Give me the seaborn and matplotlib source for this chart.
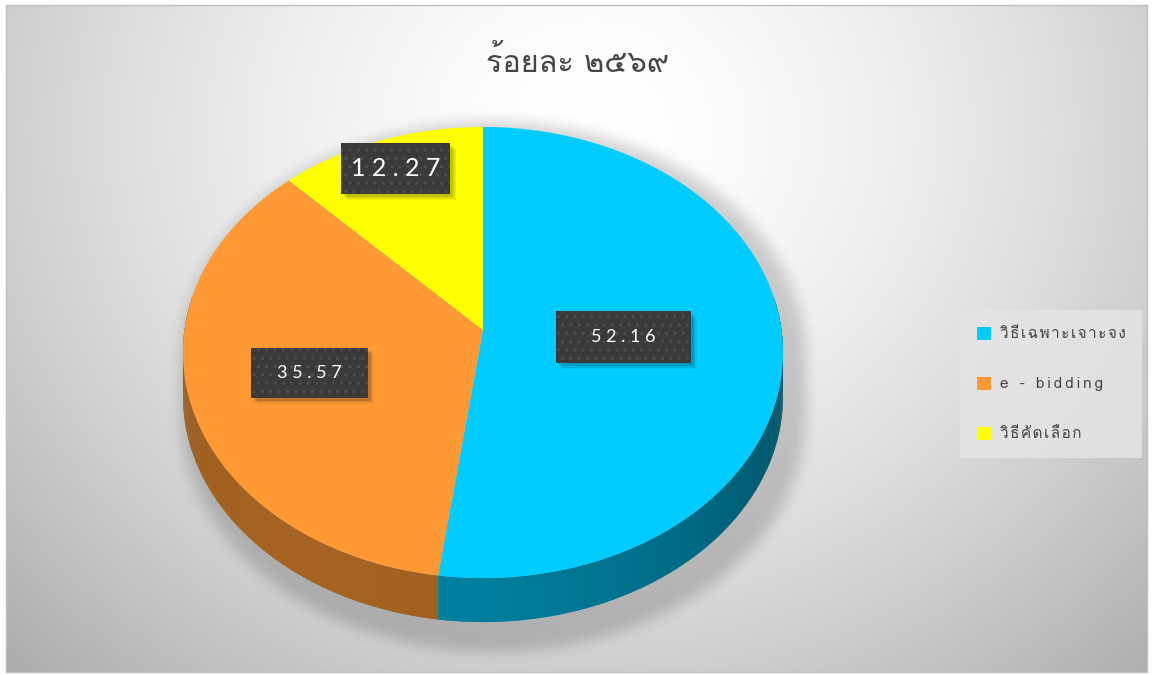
import numpy as np
import unicodedata
import matplotlib
matplotlib.use("Agg")
import matplotlib.pyplot as plt
import matplotlib.font_manager as fm
from matplotlib.patches import Patch, Rectangle, Polygon
from matplotlib.path import Path
import seaborn as sns

# ---------------- data ----------------
title_text = "ร้อยละ ๒๕๖๙"
categories = ["วิธีเฉพาะเจาะจง", "e - bidding", "วิธีคัดเลือก"]
values = [52.16, 35.57, 12.27]
label_texts = ["52.16", "35.57", "12.27"]
colors = ["#00CCFF", "#FF9933", "#FFFF00"]

sns.set_theme(style="white")

# find a font with Thai coverage
thai_family = None
try:
    from fontTools.ttLib import TTFont
    for f in fm.fontManager.ttflist:
        try:
            t = TTFont(f.fname, fontNumber=0, lazy=True)
            cmap = t.getBestCmap()
            if cmap and 0x0E01 in cmap:
                thai_family = f.name
                break
        except Exception:
            continue
except Exception:
    pass
fams = ([thai_family] if thai_family else []) + ["DejaVu Sans"]
plt.rcParams["font.family"] = fams


def spaced(s):
    out = ""
    for ch in s:
        if out and unicodedata.category(ch) not in ("Mn", "Mc"):
            out += "\u2009" if ch.isascii() else "\u200a"
        out += ch
    return out


W, H = 1152, 675
fig = plt.figure(figsize=(W / 100, H / 100), dpi=100)
fig.patch.set_facecolor("white")
ax = fig.add_axes([0, 0, 1, 1])
ax.set_xlim(0, W)
ax.set_ylim(H, 0)
ax.axis("off")

# ---------- background gradient ----------
x0, y0, x1, y1 = 6, 5, 1147, 672
yy, xx = np.mgrid[y0:y1, x0:x1]
d = np.sqrt(((xx - 590) / 700.0) ** 2 + ((yy - 130) / 640.0) ** 2)
g = 1.0 - 0.25 * np.clip(d, 0, 1.2) ** 1.6
bg = np.dstack([g, g, g])
ax.imshow(bg, extent=(x0, x1, y1, y0), zorder=0, interpolation="bilinear")
ax.add_patch(Rectangle((x0, y0), x1 - x0, y1 - y0, fill=False, ec="#c0c0c0", lw=1, zorder=1))

# ---------- projection ----------
cx, cy, A, C, p, depth = 483.0, 330.0, 298.5, 223.3, 0.0998, 44.0


def proj(theta_deg, r=1.0, z=0.0):
    th = np.radians(theta_deg)
    u = r * np.sin(th)
    v = -r * np.cos(th)
    w = 1 - p * v
    return cx + A * u / w, cy + C * v / w + z


# ---------- shadow ----------
sy, sx = np.mgrid[0:H, 0:W]
pts = np.column_stack([sx.ravel(), sy.ravel()])
mask = np.zeros((H, W))
ts = np.linspace(0, 360, 300)
for z in np.linspace(0, depth + 16, 8):
    px, py = proj(ts, 1.04, z)
    path = Path(np.column_stack([px + 10, py + 2]))
    inside = path.contains_points(pts).reshape(H, W)
    mask = np.maximum(mask, inside)


def blur(a, k):
    ker = np.ones(k) / k
    for _ in range(3):
        a = np.apply_along_axis(lambda m: np.convolve(m, ker, mode="same"), 1, a)
        a = np.apply_along_axis(lambda m: np.convolve(m, ker, mode="same"), 0, a)
    return a


sh = blur(mask, 13)
shadow = np.zeros((H, W, 4))
shadow[..., 3] = 0.17 * sh
ax.imshow(shadow, extent=(0, W, H, 0), zorder=2, interpolation="bilinear")

# ---------- pie ----------
total = float(sum(values))
angles = np.cumsum([0] + [v / total * 360 for v in values])


def hex2rgb(h):
    return np.array(matplotlib.colors.to_rgb(h))


for i, c in enumerate(colors):
    a0, a1 = angles[i], angles[i + 1]
    n = max(int(a1 - a0) * 2, 4)
    ths = np.linspace(a0, a1, n)
    base = hex2rgb(c)
    for j in range(n - 1):
        tm = (ths[j] + ths[j + 1]) / 2
        if np.cos(np.radians(tm)) > 0.15:
            continue
        f = 0.47 + 0.18 * np.cos(np.radians(tm - 215))
        xa, ya = proj(np.array([ths[j], ths[j + 1] + 0.3]))
        xb, yb = proj(np.array([ths[j + 1] + 0.3, ths[j]]), z=depth)
        ax.add_patch(Polygon(np.column_stack([np.r_[xa, xb], np.r_[ya, yb]]),
                             closed=True, fc=np.clip(base * f, 0, 1), ec="none", zorder=3))

for i, c in enumerate(colors):
    a0, a1 = angles[i], angles[i + 1]
    ths = np.linspace(a0, a1, 200)
    px, py = proj(ths)
    ax.add_patch(Polygon(np.column_stack([np.r_[cx, px], np.r_[cy, py]]),
                         closed=True, fc=c, ec="none", zorder=4))

# ---------- data labels ----------
label_r = [0.47, 0.6, 0.84]
label_fs = [13, 13, 18]
label_pad = [(35, 18), (26, 17), (10, 14)]  # px (x, y)
renderer = fig.canvas.get_renderer()
for i, txt in enumerate(label_texts):
    mid = (angles[i] + angles[i + 1]) / 2
    lx, ly = proj(mid, label_r[i])
    t = ax.text(lx, ly, " ".join(txt), color="white", fontsize=label_fs[i],
                family="Lato", ha="center", va="center", zorder=8)
    bb = t.get_window_extent(renderer)
    wpx = bb.width + 2 * label_pad[i][0]
    hpx = bb.height + 2 * label_pad[i][1]
    for k, (off, al) in enumerate([(6, 0.06), (4.5, 0.08), (3, 0.12)]):
        ax.add_patch(Rectangle((lx - wpx / 2 + off, ly - hpx / 2 + off), wpx, hpx,
                               fc="black", ec="none", alpha=al, zorder=5))
    rect = Rectangle((lx - wpx / 2, ly - hpx / 2), wpx, hpx, fc="#3a3a3a", ec="#4d4d4d",
                     lw=0, hatch="..", zorder=6)
    ax.add_patch(rect)

# ---------- title ----------
ax.text(578, 62, title_text, fontsize=22, color="#454545", ha="center", va="center", zorder=6)

# ---------- legend ----------
handles = [Patch(fc=c, ec="none") for c in colors]
leg = fig.legend(handles, [spaced(c) for c in categories], loc="center left",
                 bbox_to_anchor=(960 / W, 1 - 384 / H),
                 frameon=True, fontsize=11, labelspacing=2.3, handlelength=0.95, handleheight=0.95,
                 handletextpad=0.55, borderpad=1.1, borderaxespad=0)
fr = leg.get_frame()
fr.set_facecolor("#e4e4e4")
fr.set_edgecolor("none")
fr.set_alpha(0.85)
fr.set_boxstyle("square", pad=0)
for t in leg.get_texts():
    t.set_color("#444444")

fig.savefig("out.png", dpi=100)
